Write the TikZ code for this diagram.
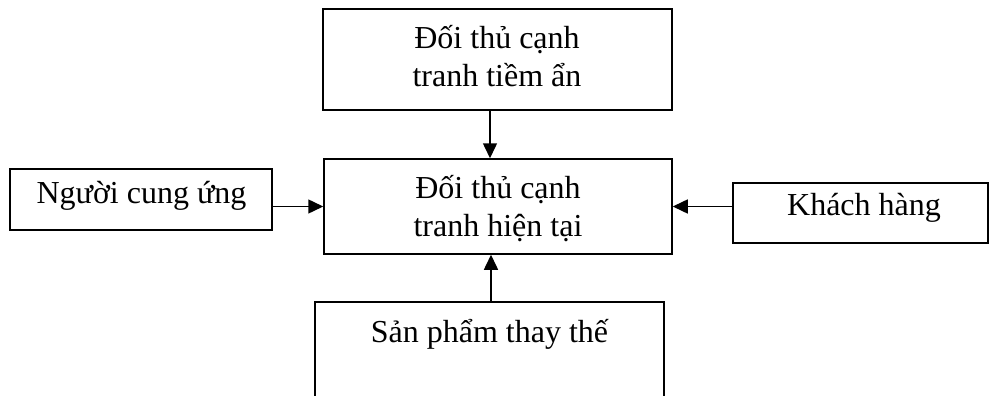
\documentclass[tikz,border=0pt]{standalone}
\usepackage{fontspec}
\setmainfont{Liberation Serif}
\usetikzlibrary{arrows.meta}
\begin{document}
\begin{tikzpicture}[x=1pt,y=-1pt,
  box/.style={draw, line width=1.5pt, inner sep=0pt},
  lbl/.style={anchor=base, inner sep=0pt, font=\fontsize{32}{38}\selectfont},
  arr/.style={line width=1.5pt, -{Triangle[length=15pt,width=14pt]}}]
\useasboundingbox (0,0) rectangle (989,396);
\clip (0,0) rectangle (989,396);
\node[box, minimum width=349pt, minimum height=101pt] (tp) at (497.5,59.5) {};
\node[box, minimum width=348pt, minimum height=95pt] (ct) at (498,206.5) {};
\node[box, minimum width=262pt, minimum height=61pt] (lf) at (141,199.5) {};
\node[box, minimum width=255pt, minimum height=60pt] (rt) at (860.5,213) {};
\node[box, minimum width=349pt, minimum height=140pt] (bt) at (489.5,372) {};
\node[lbl] (tp1) at (497,49) {Đối thủ cạnh};
\node[lbl] (tp2) at (497,87) {tranh tiềm ẩn};
\node[lbl] (ct1) at (498,198) {Đối thủ cạnh};
\node[lbl] (ct2) at (498,236) {tranh hiện tại};
\node[lbl] (lf1) at (141.5,203) {Người cung ứng};
\node[lbl] (rt1) at (864,215) {Khách hàng};
\node[lbl] (bt1) at (489.5,342) {Sản phẩm thay thế};
\draw[arr] ([xshift=-7.5pt]tp.south) -- ([xshift=-7.5pt]tp.south |- ct.north);
\draw[arr] (lf.east |- ct.west) -- (ct.west);
\draw[arr] (rt.west |- ct.east) -- (ct.east);
\draw[arr] ([xshift=1.5pt]bt.north) -- ([xshift=1.5pt]bt.north |- ct.south);
\end{tikzpicture}
\end{document}
